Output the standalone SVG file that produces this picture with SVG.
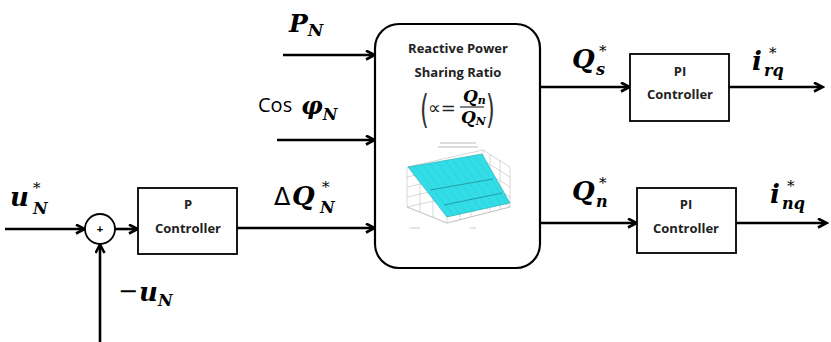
<svg xmlns="http://www.w3.org/2000/svg" width="831" height="342" viewBox="0 0 831 342">
<style>
.ln{stroke:#000;stroke-width:2.6;fill:none}
.box{fill:#fff;stroke:#000;stroke-width:1.8}
.bt{font-family:"Open Sans","Liberation Sans",sans-serif;font-weight:bold;font-size:13px;fill:#222;text-anchor:middle}
.mt{font-family:"DejaVu Serif","Liberation Serif",serif;font-weight:bold;font-style:italic;fill:#000}
.sup{font-family:"DejaVu Serif","Liberation Serif",serif;font-weight:normal;font-size:15px;fill:#000}
.grid{stroke:#b0b0b0;stroke-width:0.5;fill:none}
</style>
<defs>
<marker id="arr" markerWidth="12" markerHeight="12" refX="9" refY="5" orient="auto" markerUnits="userSpaceOnUse">
<path d="M1,0.5 L9.5,5 L1,9.5" fill="none" stroke="#000" stroke-width="2.6" stroke-linejoin="miter"/>
</marker>
</defs>
<rect width="831" height="342" fill="#fff"/>

<g id="connectors">
<line class="ln" x1="5" y1="229" x2="84" y2="229" marker-end="url(#arr)"/>
<line class="ln" x1="100" y1="342" x2="100" y2="245" marker-end="url(#arr)"/>
<line class="ln" x1="115" y1="229" x2="137" y2="229" marker-end="url(#arr)"/>
<line class="ln" x1="237" y1="228" x2="374" y2="228" marker-end="url(#arr)"/>
<line class="ln" x1="283" y1="55" x2="374" y2="55" marker-end="url(#arr)"/>
<line class="ln" x1="277" y1="140" x2="374" y2="140" marker-end="url(#arr)"/>
<line class="ln" x1="540" y1="87" x2="629" y2="87" marker-end="url(#arr)"/>
<line class="ln" x1="729" y1="87" x2="822" y2="87" marker-end="url(#arr)"/>
<line class="ln" x1="540" y1="223" x2="636" y2="223" marker-end="url(#arr)"/>
<line class="ln" x1="736" y1="223" x2="826" y2="223" marker-end="url(#arr)"/>
</g>

<g id="sum">
<circle cx="100" cy="229" r="15" fill="#fff" stroke="#000" stroke-width="1.8"/>
<text x="100" y="233" font-family="Liberation Sans,sans-serif" font-size="11" font-weight="bold" text-anchor="middle">+</text>
</g>

<g id="p-controller">
<rect class="box" x="138" y="188" width="99" height="66"/>
<text class="bt" x="188" y="209">P</text>
<text class="bt" x="188" y="233">Controller</text>
</g>

<g id="pi-controller-1">
<rect class="box" x="630" y="54" width="99" height="67"/>
<text class="bt" x="680" y="76">PI</text>
<text class="bt" x="680" y="99">Controller</text>
</g>

<g id="pi-controller-2">
<rect class="box" x="637" y="188" width="99" height="65"/>
<text class="bt" x="686" y="209">PI</text>
<text class="bt" x="686" y="233">Controller</text>
</g>

<g id="sharing-ratio">
<rect x="375" y="24" width="165" height="244" rx="24" ry="24" fill="#fff" stroke="#000" stroke-width="2.2"/>
<text class="bt" x="458" y="53" font-size="15">Reactive Power</text>
<text class="bt" x="458" y="77" font-size="15">Sharing Ratio</text>
<text x="420" y="119" font-family="DejaVu Sans,sans-serif" font-size="30" fill="#333" transform="translate(420 107) scale(0.75 1.3) translate(-420 -107)">(</text>
<text x="428" y="114" font-family="DejaVu Sans,sans-serif" font-size="18" fill="#222">∝=</text>
<line x1="460" y1="107" x2="484" y2="107" stroke="#222" stroke-width="1.1"/>
<text class="mt" x="463" y="102" font-size="17">Q<tspan font-size="11" dy="2">n</tspan></text>
<text class="mt" x="461" y="123" font-size="17">Q<tspan font-size="11" dy="2">N</tspan></text>
<text x="486" y="119" font-family="DejaVu Sans,sans-serif" font-size="30" fill="#333" transform="translate(486 107) scale(0.75 1.3) translate(-486 -107)">)</text>
<g id="chart">
<line x1="440" y1="143" x2="476" y2="143" stroke="#bbb" stroke-width="1"/>
<line x1="438" y1="147" x2="478" y2="147" stroke="#bbb" stroke-width="1"/>
<path class="grid" d="M407,167 L407,207 L447,223 L510,207 L510,167 L483,150 L483,190 L407,207 M483,190 L510,207 M407,177 L483,160 L510,177 M407,187 L483,170 L510,187 M407,197 L483,180 L510,197 M420,172 L420,212 M433,170 L433,217 M447,163 L447,223 M460,160 L460,220 M471,157 L471,217 M490,155 L490,212 M500,160 L500,210 M407,167 L483,150"/>
<polygon points="408,167 482,154 510,203 447,217" fill="#33dde8" stroke="#2aa" stroke-width="0.6"/>
<path d="M430,190 L493,179 M444,205 L502,193" stroke="#1a8a95" stroke-width="0.8" fill="none"/>
<path d="M415,166 L454,216 M422,164 L460,215 M430,163 L467,213 M437,162 L474,212 M445,160 L481,210 M452,159 L488,209 M459,158 L495,207 M467,156 L502,205 M474,155 L507,204" stroke="#29c3cc" stroke-width="0.5" fill="none"/>
<path class="grid" d="M407,207 L447,223 M447,223 L510,207"/>
<line x1="410" y1="228" x2="420" y2="228" stroke="#ccc" stroke-width="1"/>
<line x1="470" y1="228" x2="476" y2="228" stroke="#ccc" stroke-width="1"/>
</g>
</g>

<g id="labels">
<text class="mt" x="289" y="32" font-size="25">P<tspan font-size="17" dy="4">N</tspan></text>
<text x="258" y="112" font-family="Open Sans,Liberation Sans,sans-serif" font-size="20" fill="#000">Cos</text>
<text class="mt" x="301" y="114" font-size="24">φ<tspan font-size="16" dy="6">N</tspan></text>

<text class="mt" x="10" y="206" font-size="26">u</text>
<text class="sup" x="33" y="193">*</text>
<text class="mt" x="33" y="214" font-size="16">N</text>

<text x="118" y="299" font-family="DejaVu Sans,sans-serif" font-size="24" fill="#000">−</text>
<text class="mt" x="139" y="301" font-size="26">u<tspan font-size="16" dy="5">N</tspan></text>

<text x="274" y="205" font-family="DejaVu Sans,sans-serif" font-size="24" fill="#000">Δ</text>
<text class="mt" x="292" y="205" font-size="26">Q</text>
<text class="sup" x="322" y="192">*</text>
<text class="mt" x="320" y="213" font-size="16">N</text>

<text class="mt" x="572" y="68" font-size="26">Q</text>
<text class="sup" x="599" y="56">*</text>
<text class="mt" x="596" y="75" font-size="16">s</text>

<text class="mt" x="572" y="200" font-size="26">Q</text>
<text class="sup" x="599" y="188">*</text>
<text class="mt" x="596" y="207" font-size="16">n</text>

<text class="mt" x="752" y="70" font-size="26">i</text>
<text class="sup" x="769" y="58">*</text>
<text class="mt" x="764" y="76" font-size="16">rq</text>

<text class="mt" x="770" y="203" font-size="26">i</text>
<text class="sup" x="787" y="191">*</text>
<text class="mt" x="782" y="209" font-size="16">nq</text>
</g>
</svg>
